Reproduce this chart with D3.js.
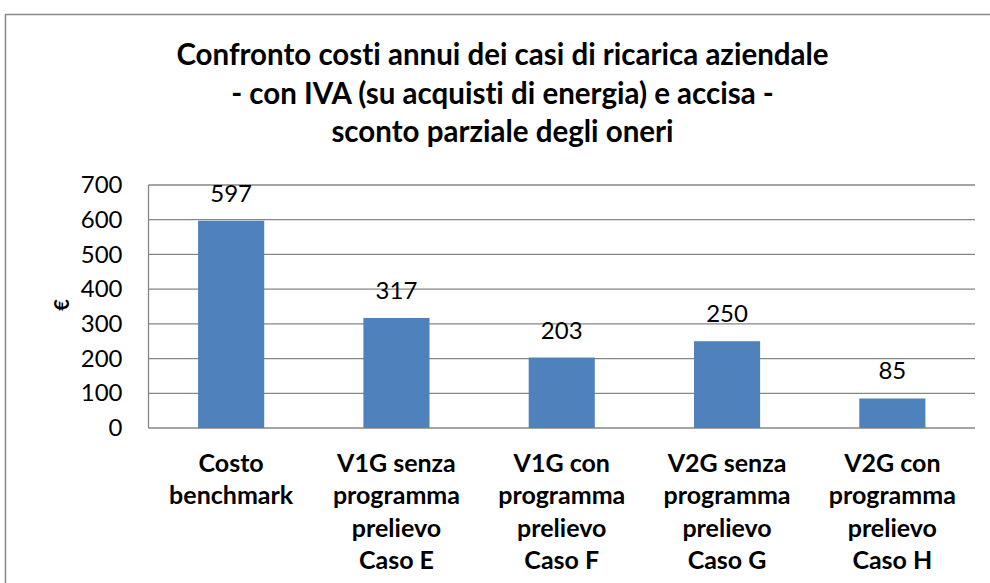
<!DOCTYPE html>
<html>
<head>
<meta charset="utf-8">
<script src="https://cdn.jsdelivr.net/npm/d3@7"></script>
<style>
  body { margin: 0; background: #fff; }
  svg { display: block; font-family: Lato, 'Open Sans', sans-serif; font-variant-ligatures: none; }
</style>
</head>
<body>
<svg id="chart"></svg>
<script>
const titleLines = [
  'Confronto costi annui dei casi di ricarica aziendale',
  '- con IVA (su acquisti di energia) e accisa -',
  'sconto parziale degli oneri',
];
const categories = [
  ['Costo', 'benchmark'],
  ['V1G senza', 'programma', 'prelievo', 'Caso E'],
  ['V1G con', 'programma', 'prelievo', 'Caso F'],
  ['V2G senza', 'programma', 'prelievo', 'Caso G'],
  ['V2G con', 'programma', 'prelievo', 'Caso H'],
];
const values = [597, 317, 203, 250, 85];
const yTicks = [0, 100, 200, 300, 400, 500, 600, 700];
const yLabel = '€';

const opts = {
  width: 990,
  height: 583,
  left: 148.5,
  right: 975,
  top: 185,
  bottom: 428,
  barColor: '#4f81bd',
  gridColor: '#868686',
}

const svg = d3.select('#chart')
  .attr('width', opts.width)
  .attr('height', opts.height);

// chart frame, right and bottom edges fall outside the picture
svg.append('rect')
  .attr('x', 5.5).attr('y', 14.5)
  .attr('width', 1010).attr('height', 620)
  .attr('fill', '#fff')
  .attr('stroke', '#888')
  .attr('stroke-width', 1.5);

svg.append('g').classed('title', true).selectAll('text').data(titleLines).enter()
  .append('text')
  .attr('x', 502.5)
  .attr('y', (d, i) => 65 + i * 38.5)
  .attr('text-anchor', 'middle')
  .attr('font-size', 29.5)
  .attr('font-weight', 'bold')
  .attr('fill', '#000')
  .text(d => d);

const names = categories.map(c => c.join(' '));
const x = d3.scaleBand().domain(names).range([opts.left, opts.right])
  .paddingInner(0.6).paddingOuter(0.3);
const y = d3.scaleLinear().domain([0, 700]).range([opts.bottom, opts.top]);

const yAxis = svg.append('g')
  .attr('transform', `translate(${opts.left},0)`)
  .call(d3.axisLeft(y).tickValues(yTicks).tickSize(0).tickPadding(26))
  .call(g => g.select('.domain').remove());
yAxis.selectAll('text')
  .attr('font-family', 'Lato, sans-serif')
  .attr('font-size', 24)
  .attr('fill', '#000');

svg.append('g').classed('grid', true).selectAll('line').data(yTicks).enter()
  .append('line')
  .attr('x1', opts.left)
  .attr('x2', opts.right)
  .attr('y1', d => y(d))
  .attr('y2', d => y(d))
  .attr('stroke', opts.gridColor)
  .attr('stroke-width', 1.3);

svg.append('line')
  .attr('x1', opts.left).attr('x2', opts.left)
  .attr('y1', opts.top).attr('y2', opts.bottom)
  .attr('stroke', opts.gridColor)
  .attr('stroke-width', 1.3);

svg.append('g').classed('bars', true).selectAll('rect').data(values).enter()
  .append('rect')
  .attr('x', (d, i) => x(names[i]))
  .attr('y', d => y(d))
  .attr('width', x.bandwidth())
  .attr('height', d => y(0) - y(d))
  .attr('fill', opts.barColor);

svg.append('g').classed('values', true).selectAll('text').data(values).enter()
  .append('text')
  .attr('x', (d, i) => x(names[i]) + x.bandwidth() / 2)
  .attr('y', d => y(d) - 19)
  .attr('text-anchor', 'middle')
  .attr('font-size', 24)
  .attr('fill', '#000')
  .text(d => d);

const cats = svg.append('g').classed('cats', true).selectAll('text').data(categories).enter()
  .append('text')
  .attr('text-anchor', 'middle')
  .attr('font-size', 25)
  .attr('font-weight', 'bold')
  .attr('fill', '#000');
cats.selectAll('tspan').data((c, i) => c.map(line => ({ line, i }))).enter()
  .append('tspan')
  .attr('x', d => x(names[d.i]) + x.bandwidth() / 2)
  .attr('y', (d, j) => 472 + j * 32.3)
  .text(d => d.line);

svg.append('text')
  .attr('transform', 'translate(69,305) rotate(-90)')
  .attr('text-anchor', 'middle')
  .attr('font-size', 20)
  .attr('font-weight', 'bold')
  .attr('fill', '#000')
  .text(yLabel);
</script>
</body>
</html>
